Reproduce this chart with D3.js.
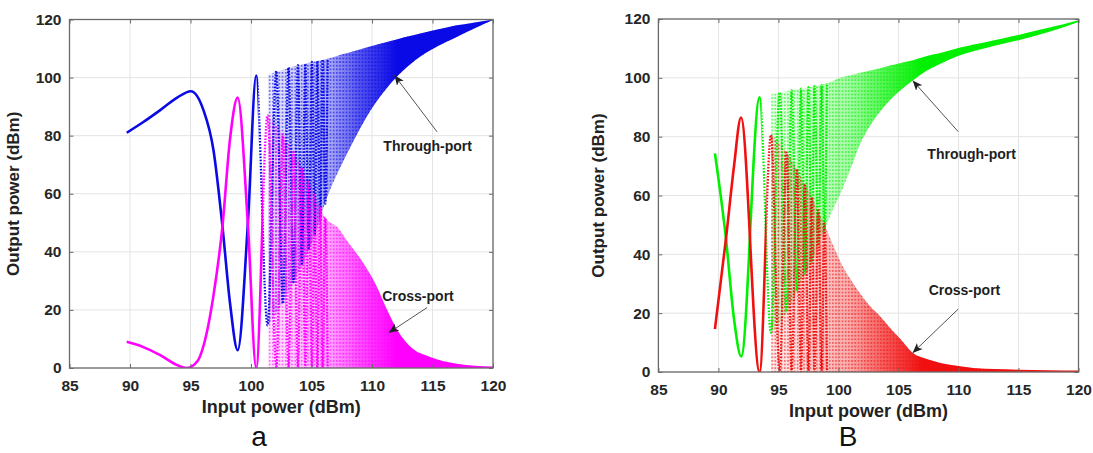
<!DOCTYPE html>
<html lang="en">
<head>
<meta charset="utf-8">
<title>Through-port / Cross-port output power</title>
<script src="https://d3js.org/d3.v7.min.js"></script>
<style>
  body { margin: 0; background: #fff; }
  text { font-family: "Liberation Sans", Arial, sans-serif; }
</style>
</head>
<body>
<svg id="chart" width="1093" height="453"></svg>
<script>
// tick values shared by both panels
var xTicks = [85, 90, 95, 100, 105, 110, 115, 120];
var yTicks = [0, 20, 40, 60, 80, 100, 120];

// ---- panel a : resolved part of the curves (start, peaks, troughs, crossings)
var aThroughX = [89.73, 91.1, 92.5, 93.9, 95.03, 96.07, 96.9, 97.64, 98.27, 98.9, 99.74, 100.43, 101.37, 102.09, 102.64, 103.1, 103.52, 103.88, 104.21, 104.49, 104.76, 105.04, 105.26, 105.48, 105.73, 105.92, 106.14, 106.34];
var aThroughY = [81, 84.7, 88.8, 93.1, 95.3, 88.8, 75, 48.8, 22.2, 6.1, 49.7, 100.7, 14.7, 102.3, 22.2, 103.5, 29.6, 104.3, 35.4, 104.8, 40.8, 105.4, 46, 105.7, 51.1, 106.2, 56.6, 106.4];
var aCrossX = [89.73, 91.1, 92.5, 93.9, 94.7, 95.6, 96.1, 96.9, 97.64, 98.27, 98.9, 99.74, 100.43, 101.37, 102.09, 102.64, 103.1, 103.52, 103.88, 104.21, 104.49, 104.76, 105.04, 105.26, 105.48, 105.73, 105.92, 106.14, 106.34];
var aCrossY = [9, 7.2, 4.4, 1, 0, 2.5, 8, 25, 48.8, 79, 93.1, 49.7, 0, 87, 0, 80.5, 0, 74.4, 0, 69, 0, 64.1, 0, 59.5, 0, 55.5, 0, 51.8, 0];

// panel a : envelopes of the densely oscillating part
var aThroughBandX  = [101.4, 102.6, 103.5, 104.2, 104.8, 105.3, 105.7, 106.1, 106.7, 107.4, 108.5, 109.9, 111.3, 112.6, 114, 115.5, 117, 118.5, 120];
var aThroughBandLo = [14.7, 22.2, 29.6, 35.4, 40.8, 46, 51.1, 56.6, 63, 69.3, 78.4, 88.8, 96.8, 102.5, 107.3, 111, 114, 117, 119.8];
var aThroughBandHi = [101, 102.6, 103.8, 104.5, 105.1, 105.5, 105.9, 106.2, 106.9, 107.9, 109.1, 110.8, 112.3, 113.8, 115.2, 116.6, 118, 119, 120];
var aCrossBandX  = [101.4, 102.6, 103.5, 104.2, 104.8, 105.3, 105.7, 106.1, 106.6, 107.1, 107.9, 109.3, 110.4, 111.3, 112.1, 113.2, 114.8, 117, 120];
var aCrossBandHi = [87, 80.5, 74.4, 69, 64.1, 59.5, 55.5, 51.8, 50, 48.6, 44, 36, 28, 19.5, 13, 7.2, 3.8, 1.5, 0.5];

// ---- panel B : resolved part of the curves
var bThroughX = [89.71, 90.63, 91.3, 91.9, 93.43, 94.38, 95.1, 95.68, 96.1, 96.54, 96.88, 97.2, 97.5, 97.77, 98.0, 98.32, 98.6, 98.82, 99.05];
var bThroughY = [74.3, 45.3, 18, 5.3, 93.4, 13.4, 95.1, 20.5, 95.7, 27.3, 96.3, 33.5, 96.8, 37.4, 97.2, 43.6, 97.6, 48.1, 98];
var bCrossX = [89.71, 90.63, 91.3, 91.88, 93.43, 94.38, 95.1, 95.68, 96.1, 96.54, 96.88, 97.2, 97.5, 97.77, 98.0, 98.32, 98.6, 98.82, 99.05];
var bCrossY = [14.6, 45.3, 70, 86.5, 0, 80.6, 0, 74.6, 0, 69, 0, 63.9, 0, 59.4, 0, 54.9, 0, 50.4, 0];

// panel B : envelopes of the dense part
var bThroughBandX  = [94.4, 95.7, 96.5, 97.2, 97.8, 98.3, 98.8, 99.5, 100.1, 101, 101.8, 102.6, 103.5, 104.3, 105.1, 106.2, 107.3, 108.5, 110, 112.6, 115, 117.5, 120];
var bThroughBandLo = [13.4, 20.5, 27.3, 33.5, 37.4, 43.6, 48.1, 55, 60, 69, 77.5, 83.5, 88.7, 92.5, 95.5, 99.1, 102.3, 104.8, 107.5, 110.5, 112.8, 115.6, 119];
var bThroughBandHi = [94.3, 95.4, 96, 96.5, 97, 97.4, 97.9, 98.8, 100, 100.9, 101.7, 102.5, 103.3, 104.2, 105, 106, 107.3, 108.4, 110.1, 112.4, 114.6, 117, 119.6];
var bCrossBandX  = [94.4, 95.7, 96.5, 97.2, 97.8, 98.3, 98.8, 99.5, 100.1, 101, 101.8, 102.6, 103.5, 104.3, 105.1, 106.2, 107.3, 108.5, 110, 111.2, 113, 115, 117.5, 120];
var bCrossBandHi = [80.6, 74.6, 69, 63.9, 59.4, 54.9, 50.4, 43.7, 38, 31.5, 26.7, 22.5, 18.8, 15, 11.5, 6.5, 4.5, 3.1, 2, 1.4, 1, 0.8, 0.6, 0.5];

var svg = d3.select('#chart');
svg.append('rect').attr('width', 1093).attr('height', 453).attr('fill', '#fff');
var defs = svg.append('defs');

defs.append('marker')
    .attr('id', 'head')
    .attr('viewBox', '0 0 10 10')
    .attr('refX', 10).attr('refY', 5)
    .attr('markerWidth', 10).attr('markerHeight', 10)
    .attr('markerUnits', 'userSpaceOnUse')
    .attr('orient', 'auto')
  .append('path')
    .attr('d', 'M0,0.8 L10,5 L0,9.2 L2.5,5 Z')
    .attr('fill', '#222');

function pts(xs, ys, ys2) {
  return xs.map(function(d, i) {
    return { x: d, hi: ys[i], lo: ys2 ? ys2[i] : 0 };
  });
}

// dotted texture, like the sampled markers of the original plot
function dotPattern(id, color) {
  var pat = defs.append('pattern').attr('id', id)
    .attr('patternUnits', 'userSpaceOnUse')
    .attr('width', 3.2).attr('height', 3.6);
  pat.append('rect').attr('width', 1.8).attr('height', 1.8).attr('fill', color);
}

function drawPanel(p) {
  var x = d3.scaleLinear().domain([85, 120]).range([p.left, p.right]);
  var y = d3.scaleLinear().domain([0, 120]).range([p.bottom, p.top]);
  var g = svg.append('g');

  // grid
  g.selectAll('.gx').data(xTicks).enter().append('line')
    .attr('x1', function(d) { return x(d); }).attr('x2', function(d) { return x(d); })
    .attr('y1', p.top).attr('y2', p.bottom)
    .attr('stroke', '#e4e4e4').attr('stroke-width', 1);
  g.selectAll('.gy').data(yTicks).enter().append('line')
    .attr('y1', function(d) { return y(d); }).attr('y2', function(d) { return y(d); })
    .attr('x1', p.left).attr('x2', p.right)
    .attr('stroke', '#e4e4e4').attr('stroke-width', 1);

  defs.append('clipPath').attr('id', p.id + '-clip')
    .append('rect')
    .attr('x', p.left).attr('y', p.top)
    .attr('width', p.right - p.left).attr('height', p.bottom - p.top);

  // gradient fills so the dense part gets darker towards high input power
  function grad(id, color, stops) {
    var x1 = x(stops[0][0]), x2 = x(120);
    var lg = defs.append('linearGradient').attr('id', id)
      .attr('gradientUnits', 'userSpaceOnUse')
      .attr('x1', x1).attr('x2', x2).attr('y1', 0).attr('y2', 0);
    stops.forEach(function(s) {
      lg.append('stop')
        .attr('offset', (x(s[0]) - x1) / (x2 - x1))
        .attr('stop-color', color)
        .attr('stop-opacity', s[1]);
    });
  }
  grad(p.id + '-tg', p.throughColor, p.stops);
  grad(p.id + '-cg', p.crossColor, p.stops);
  dotPattern(p.id + '-tp', p.throughColor);
  dotPattern(p.id + '-cp', p.crossColor);

  var plot = g.append('g').attr('clip-path', 'url(#' + p.id + '-clip)');

  var area = d3.area()
    .x(function(d) { return x(d.x); })
    .y0(function(d) { return y(d.lo); })
    .y1(function(d) { return y(d.hi); })
    .curve(d3.curveMonotoneX);

  var tBand = pts(p.throughBandX, p.throughBandHi, p.throughBandLo);
  var cBand = pts(p.crossBandX, p.crossBandHi);
  plot.append('path').datum(tBand).attr('d', area)
    .attr('fill', 'url(#' + p.id + '-tp)').attr('opacity', 0.55);
  plot.append('path').datum(tBand).attr('d', area)
    .attr('fill', 'url(#' + p.id + '-tg)');
  plot.append('path').datum(cBand).attr('d', area)
    .attr('fill', 'url(#' + p.id + '-cp)').attr('opacity', 0.55);
  plot.append('path').datum(cBand).attr('d', area)
    .attr('fill', 'url(#' + p.id + '-cg)');

  var line = d3.line()
    .x(function(d) { return x(d.x); })
    .y(function(d) { return y(d.hi); })
    .curve(d3.curveMonotoneX);

  // solid where the curve is resolved, dotted once the samples thin out
  function curve(xs, ys, color, split, key) {
    var data = pts(xs, ys);
    defs.append('clipPath').attr('id', key + '-s').append('rect')
      .attr('x', p.left).attr('y', 0).attr('width', x(split) - p.left).attr('height', 453);
    defs.append('clipPath').attr('id', key + '-d').append('rect')
      .attr('x', x(split)).attr('y', 0).attr('width', p.right - x(split)).attr('height', 453);
    plot.append('g').attr('clip-path', 'url(#' + key + '-s)')
      .append('path').datum(data).attr('d', line)
      .attr('fill', 'none').attr('stroke', color).attr('stroke-width', 2.6);
    plot.append('g').attr('clip-path', 'url(#' + key + '-d)')
      .append('path').datum(data).attr('d', line)
      .attr('fill', 'none').attr('stroke', color).attr('stroke-width', 2.3)
      .attr('stroke-dasharray', '1.6 1.5');
  }
  curve(p.throughX, p.throughY, p.throughColor, p.throughSplit, p.id + '-t');
  curve(p.crossX, p.crossY, p.crossColor, p.crossSplit, p.id + '-c');

  // axes
  var axColor = '#6a6a6a';
  var xb = g.append('g').attr('transform', 'translate(0,' + p.bottom + ')')
    .call(d3.axisBottom(x).tickValues(xTicks).tickSize(-4).tickPadding(12));
  var yl = g.append('g').attr('transform', 'translate(' + p.left + ',0)')
    .call(d3.axisLeft(y).tickValues(yTicks).tickSize(-4).tickPadding(8));
  var xt = g.append('g').attr('transform', 'translate(0,' + p.top + ')')
    .call(d3.axisTop(x).tickValues(xTicks).tickSize(-4).tickFormat(''));
  var yr = g.append('g').attr('transform', 'translate(' + p.right + ',0)')
    .call(d3.axisRight(y).tickValues(yTicks).tickSize(-4).tickFormat(''));
  [xb, yl, xt, yr].forEach(function(a) {
    a.select('.domain').remove();
    a.selectAll('line').attr('stroke', axColor);
    a.selectAll('text')
      .attr('font-family', '"Liberation Sans", Arial, sans-serif')
      .attr('font-size', 15.5).attr('font-weight', 'bold').attr('fill', '#262626');
  });
  g.append('rect')
    .attr('x', p.left).attr('y', p.top)
    .attr('width', p.right - p.left).attr('height', p.bottom - p.top)
    .attr('fill', 'none').attr('stroke', axColor).attr('stroke-width', 1.3);

  g.append('text')
    .attr('x', (p.left + p.right) / 2).attr('y', p.xTitleY)
    .attr('text-anchor', 'middle')
    .attr('font-size', 18).attr('font-weight', 'bold').attr('fill', '#222')
    .text('Input power (dBm)');
  g.append('text')
    .attr('transform', 'translate(' + p.yTitleX + ',' + ((p.top + p.bottom) / 2) + ') rotate(-90)')
    .attr('text-anchor', 'middle')
    .attr('font-size', 17).attr('font-weight', 'bold').attr('fill', '#222')
    .text('Output power (dBm)');

  // annotations
  p.notes.forEach(function(n) {
    g.append('line')
      .attr('x1', x(n.from[0])).attr('y1', y(n.from[1]))
      .attr('x2', x(n.to[0])).attr('y2', y(n.to[1]))
      .attr('stroke', '#555').attr('stroke-width', 1)
      .attr('marker-end', 'url(#head)');
    g.append('text')
      .attr('x', x(n.at[0])).attr('y', y(n.at[1]))
      .attr('text-anchor', 'middle')
      .attr('font-size', 14).attr('font-weight', 'bold').attr('fill', '#1e1e1e')
      .text(n.label);
  });

  g.append('text')
    .attr('x', p.capX).attr('y', 446)
    .attr('text-anchor', 'middle')
    .attr('font-family', '"Liberation Serif", "Times New Roman", serif')
    .attr('font-size', 28).attr('fill', '#111')
    .text(p.caption);
}

drawPanel({
  id: 'pa', left: 69.5, right: 493, top: 19.5, bottom: 368,
  xTitleY: 413, yTitleX: 19, capX: 259, caption: 'a',
  throughColor: '#0a0ae6', crossColor: '#ff00ff',
  throughX: aThroughX, throughY: aThroughY, throughSplit: 100.6,
  crossX: aCrossX, crossY: aCrossY, crossSplit: 101.0,
  throughBandX: aThroughBandX, throughBandLo: aThroughBandLo, throughBandHi: aThroughBandHi,
  crossBandX: aCrossBandX, crossBandHi: aCrossBandHi,
  stops: [[101.4, 0.08], [104, 0.2], [106.5, 0.35], [109, 0.7], [112, 1], [120, 1]],
  notes: [
    { from: [115.38, 81.3], to: [111.85, 100.8], at: [114.6, 74.7], label: 'Through-port' },
    { from: [114.55, 20.8], to: [111.38, 12.1], at: [113.8, 23], label: 'Cross-port' }
  ]
});

drawPanel({
  id: 'pb', left: 658.4, right: 1078.5, top: 19, bottom: 372,
  xTitleY: 417, yTitleX: 604, capX: 848, caption: 'B',
  throughColor: '#00f000', crossColor: '#f01010',
  throughX: bThroughX, throughY: bThroughY, throughSplit: 93.6,
  crossX: bCrossX, crossY: bCrossY, crossSplit: 94.0,
  throughBandX: bThroughBandX, throughBandLo: bThroughBandLo, throughBandHi: bThroughBandHi,
  crossBandX: bCrossBandX, crossBandHi: bCrossBandHi,
  stops: [[94.4, 0.08], [98, 0.2], [101, 0.35], [104, 0.7], [107, 1], [120, 1]],
  notes: [
    { from: [109.98, 81.7], to: [106.18, 99.1], at: [111.1, 72.5], label: 'Through-port' },
    { from: [109.98, 21.4], to: [106.18, 6.5], at: [110.5, 26.3], label: 'Cross-port' }
  ]
});
</script>
</body>
</html>
